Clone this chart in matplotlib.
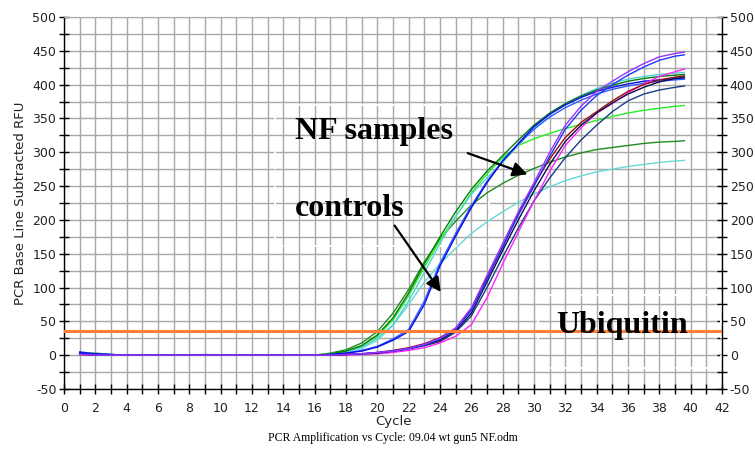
import matplotlib
matplotlib.use("Agg")
import matplotlib.pyplot as plt
from matplotlib.patches import Rectangle
from matplotlib.ticker import MultipleLocator

plt.rcParams["axes.unicode_minus"] = False

CYCLES = list(range(1, 40)) + [39.6]

# early group (controls)
turquoise_hi = [2, 1, 0, 0, 0, 0, 0, 0, 0, 0, 0, 0, 0, 0, 0, 0,
                2, 5, 12, 25, 45, 80, 122, 165, 205, 238, 262, 285, 310, 336,
                356, 372, 384, 394, 402, 408, 412, 415, 417, 418]
dkgreen_hi = [1, 2, 0, 0, 0, 0, 0, 0, 0, 0, 0, 0, 0, 0, 0, 0,
              2, 6, 14, 30, 55, 92, 135, 175, 212, 245, 272, 295, 318, 340,
              358, 372, 383, 392, 399, 405, 409, 412, 414, 415]
blue_early = [4, 2, 1, 0, 0, 0, 0, 0, 0, 0, 0, 0, 0, 0, 0, 0,
              1, 3, 6, 12, 22, 35, 75, 132, 176, 218, 255, 287, 313, 338,
              356, 370, 381, 390, 396, 401, 405, 407, 409, 410]
royal_early = [5, 2, 1, 0, 0, 0, 0, 0, 1, 0, 0, 0, 0, 0, 0, 0,
               1, 3, 7, 13, 24, 38, 80, 136, 180, 221, 257, 288, 312, 334,
               352, 366, 377, 386, 393, 398, 402, 405, 407, 408]
lime = [2, 1, 0, 0, 0, 0, 0, 0, 0, 0, 0, 0, 0, 0, 0, 0,
        2, 6, 14, 28, 52, 88, 130, 170, 205, 240, 268, 292, 310, 320,
        328, 335, 341, 347, 353, 358, 362, 365, 368, 369]
dkgreen_lo = [2, 3, 1, 0, 0, 0, 0, 0, 0, 0, 0, 0, 0, 0, 0, 0,
              3, 8, 18, 35, 62, 97, 138, 172, 198, 222, 240, 254, 266, 276,
              285, 293, 299, 304, 307, 310, 313, 315, 316, 317]
cyan_lo = [3, 2, 1, 0, 0, 0, 0, 0, 0, 0, 0, 0, 0, 0, 0, 0,
           1, 4, 10, 22, 44, 75, 108, 135, 158, 180, 197, 212, 226, 238,
           249, 258, 265, 271, 275, 279, 282, 285, 287, 288]

# late group (NF samples)
violet = [1, 0, 0, 0, 0, 0, 0, 0, 0, 0, 0, 0, 0, 0, 0, 0,
          0, 1, 2, 4, 6, 10, 16, 25, 40, 70, 118, 165, 212, 255,
          300, 340, 368, 390, 405, 419, 431, 441, 446, 448]
blue_late = [2, 1, 0, 0, 0, 0, 0, 0, 0, 0, 0, 0, 0, 0, 0, 0,
             0, 1, 2, 4, 6, 10, 15, 24, 38, 66, 112, 160, 207, 250,
             294, 334, 362, 384, 400, 414, 426, 436, 442, 444]
darkred = [1, 0, 0, 0, 0, 0, 0, 0, 0, 0, 0, 0, 0, 0, 0, 0,
           0, 1, 2, 4, 7, 11, 17, 26, 40, 68, 115, 160, 210, 252,
           290, 322, 344, 360, 376, 390, 400, 407, 411, 413]
magenta = [1, 0, 0, 0, 0, 0, 0, 0, 0, 0, 0, 0, 0, 0, 0, 0,
           0, 0, 1, 2, 4, 7, 11, 18, 28, 45, 85, 135, 182, 228,
           272, 310, 336, 358, 372, 388, 401, 412, 419, 423]
blackish = [2, 0, 0, 0, 0, 0, 0, 0, 0, 0, 0, 0, 0, 0, 0, 0,
            0, 1, 2, 3, 6, 10, 15, 22, 36, 62, 108, 155, 200, 243,
            282, 316, 340, 358, 373, 386, 396, 404, 409, 411]
navy = [2, 1, 0, 0, 0, 0, 0, 0, 0, 0, 0, 0, 0, 0, 0, 0,
        0, 1, 2, 3, 5, 9, 14, 20, 34, 58, 100, 145, 188, 228,
        262, 292, 318, 340, 360, 376, 386, 392, 396, 398]

SERIES = [
    (cyan_lo, "#66D8D8"), (dkgreen_lo, "#1E8C1E"), (lime, "#22F022"),
    (turquoise_hi, "#4FD3D3"), (dkgreen_hi, "#0A7A0A"),
    (royal_early, "#2A5BFF"), (blue_early, "#0A0AE6"),
    (navy, "#1A3A8A"), (magenta, "#FF22FF"), (darkred, "#9A1010"),
    (blackish, "#10104A"), (blue_late, "#2233FF"), (violet, "#9933FF"),
]

THRESHOLD = 36

fig = plt.figure(figsize=(7.55, 4.5), dpi=100)
ax = fig.add_axes([0.0848, 0.1356, 0.8715, 0.8267])

ax.set_xlim(0, 42)
ax.set_ylim(-50, 500)
ax.xaxis.set_major_locator(MultipleLocator(2))
ax.xaxis.set_minor_locator(MultipleLocator(1))
ax.yaxis.set_major_locator(MultipleLocator(50))
ax.yaxis.set_minor_locator(MultipleLocator(25))
ax.grid(True, which="both", color="#A8A8A8", lw=1.0)
ax.set_axisbelow(True)

for s in ["left", "right", "bottom"]:
    ax.spines[s].set_color("black")
    ax.spines[s].set_linewidth(1.0)
ax.spines["top"].set_color("#A8A8A8")

ax.tick_params(which="both", direction="inout", color="black", labelsize=9,
               labelcolor="#222222", right=True, labelright=True, width=1)
ax.tick_params(which="major", length=7)
ax.tick_params(which="minor", length=7)
ax.tick_params(axis="x", pad=6)
ax.tick_params(axis="y", pad=2)

# white dashed text-box outlines
ax.add_patch(Rectangle((13.47, 161), 13.65, 209, fill=False, ec="white",
                       lw=1.5, ls=(0, (4, 2)), zorder=1.5))
ax.add_patch(Rectangle((30.25, -19), 11.7, 108, fill=False, ec="white",
                       lw=1.5, ls=(0, (4, 2)), zorder=1.5))

for vals, col in SERIES:
    ax.plot(CYCLES, vals, color=col, lw=1.0, zorder=3)

ax.axhline(THRESHOLD, color="#FF7F3A", lw=2.2, zorder=4)

ax.set_ylabel("PCR Base Line Subtracted RFU", fontsize=9.5, color="#222222",
              labelpad=4)
ax.set_xlabel("Cycle", fontsize=9.5, color="#222222", labelpad=0)
fig.text(0.52, 0.027, "PCR Amplification vs Cycle: 09.04 wt gun5 NF.odm",
         ha="center", va="center", fontsize=8.5, family="Liberation Serif")

tfont = dict(family="Liberation Serif", weight="bold", fontsize=23,
             color="black", zorder=6)
ax.text(14.74, 330, "NF samples", ha="left", va="center", **tfont)
ax.text(14.74, 217, "controls", ha="left", va="center", **tfont)
ax.text(31.45, 44, "Ubiquitin", ha="left", va="center", **tfont)

aprops = dict(arrowstyle="-|>", mutation_scale=22, lw=1.6, color="black")
ax.annotate("", xy=(29.75, 266), xytext=(25.6, 300), arrowprops=aprops,
            zorder=6)
ax.annotate("", xy=(24.15, 90), xytext=(21.0, 195), arrowprops=aprops,
            zorder=6)

fig.savefig("out.png", dpi=100, facecolor="white")
